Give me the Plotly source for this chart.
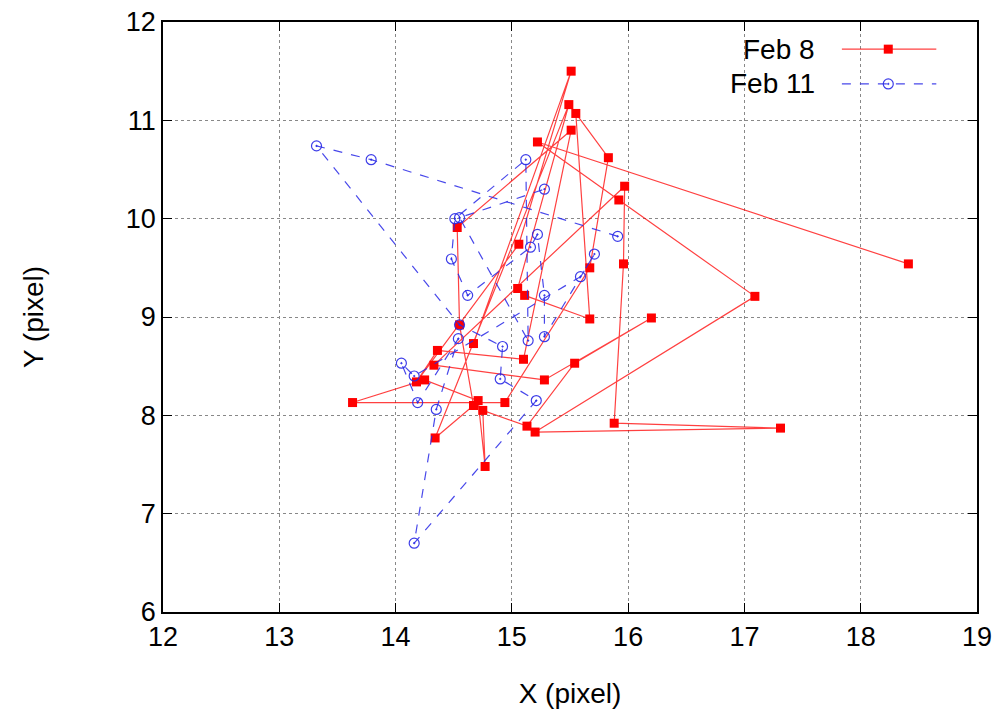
import plotly.graph_objects as go

# Feb 8 track (x, y in pixels)
feb8_x = [18.41, 15.22, 15.92, 17.09, 15.20, 17.31, 15.88, 15.96, 15.97, 14.33,
          15.28, 16.20, 15.54, 15.13, 14.75, 14.77, 14.71, 14.25, 13.63, 14.94,
          15.67, 15.83, 15.55, 15.67, 15.11, 15.05, 15.49, 14.34, 14.67, 14.55,
          14.53, 15.51, 15.10, 14.36, 14.18, 15.06, 15.51, 14.67]
feb8_y = [9.54, 10.78, 10.19, 9.21, 7.83, 7.87, 7.92, 9.54, 10.33, 8.51,
          8.36, 8.99, 8.53, 7.89, 8.05, 7.48, 8.15, 8.36, 8.13, 8.13,
          9.50, 10.62, 11.07, 8.98, 9.22, 9.29, 11.16, 7.77, 8.10, 8.92,
          9.91, 10.90, 8.57, 8.66, 8.34, 9.74, 11.50, 8.73]

# Feb 11 track
feb11_x = [15.91, 13.79, 13.32, 14.55, 14.92, 14.90, 15.21, 14.16, 14.35, 14.54,
           14.19, 14.05, 14.16, 15.59, 15.71, 15.28, 15.28, 15.22, 15.16, 14.62,
           14.48, 14.51, 15.12, 15.14, 14.55, 15.28]
feb11_y = [9.82, 10.60, 10.74, 8.92, 8.70, 8.37, 8.15, 6.70, 8.06, 8.78,
           8.13, 8.53, 8.40, 9.41, 9.64, 8.80, 9.22, 9.84, 9.71, 9.22,
           9.59, 10.00, 10.60, 8.76, 10.01, 10.30]

x_ticks = [12, 13, 14, 15, 16, 17, 18, 19]
y_ticks = [6, 7, 8, 9, 10, 11, 12]
labels = ["Feb 8", "Feb 11"]

red = "rgba(255,0,0,0.75)"
blue = "rgba(40,40,230,0.85)"
font = "Liberation Sans, Arial, sans-serif"

fig = go.Figure()
fig.add_trace(go.Scatter(x=feb8_x, y=feb8_y, mode="lines+markers", name=labels[0],
                         line=dict(color=red, width=1.2),
                         marker=dict(symbol="square", size=9, color="#ff0000"),
                         showlegend=False))
fig.add_trace(go.Scatter(x=feb11_x, y=feb11_y, mode="lines+markers", name=labels[1],
                         line=dict(color=blue, width=1.2, dash="dash"),
                         marker=dict(symbol="circle-open-dot", size=10,
                                     color="rgba(40,40,230,0.9)", line=dict(width=1.2)),
                         showlegend=False))

# custom legend (sample lines on an overlay axis in [0,1])
leg_y = [0.954, 0.895]
fig.add_trace(go.Scatter(x=[0.834, 0.891, 0.950], y=[leg_y[0]] * 3, mode="lines",
                         line=dict(color=red, width=1.2), xaxis="x2", yaxis="y2",
                         showlegend=False, hoverinfo="skip"))
fig.add_trace(go.Scatter(x=[0.891], y=[leg_y[0]], mode="markers",
                         marker=dict(symbol="square", size=9, color="#ff0000"),
                         xaxis="x2", yaxis="y2", showlegend=False, hoverinfo="skip"))
fig.add_trace(go.Scatter(x=[0.834, 0.891, 0.950], y=[leg_y[1]] * 3, mode="lines",
                         line=dict(color=blue, width=1.2, dash="dash"), xaxis="x2", yaxis="y2",
                         showlegend=False, hoverinfo="skip"))
fig.add_trace(go.Scatter(x=[0.891], y=[leg_y[1]], mode="markers",
                         marker=dict(symbol="circle-open-dot", size=10,
                                     color="rgba(40,40,230,0.9)", line=dict(width=1.2)),
                         xaxis="x2", yaxis="y2", showlegend=False, hoverinfo="skip"))
for lab, yy in zip(labels, leg_y):
    fig.add_annotation(x=0.803, y=yy, xref="paper", yref="paper", text=lab,
                       showarrow=False, xanchor="right", yanchor="middle",
                       font=dict(size=28, color="black", family=font))

axis_common = dict(showline=True, linecolor="black", linewidth=1.5, mirror="ticks",
                   ticks="inside", ticklen=9, tickcolor="black",
                   showgrid=True, gridcolor="#888888", griddash="dot", gridwidth=1,
                   zeroline=False, ticklabeloverflow="allow", automargin=False,
                   tickfont=dict(size=27, color="black", family=font))

fig.update_layout(
    width=1007, height=722,
    margin=dict(l=155, r=38, t=14, b=118),
    paper_bgcolor="white", plot_bgcolor="white",
    xaxis=dict(range=[12, 19], tickvals=x_ticks,
               title=dict(text="X (pixel)", font=dict(size=28, color="black", family=font), standoff=32),
               **axis_common),
    yaxis=dict(range=[6, 12], tickvals=y_ticks,
               title=dict(text="Y (pixel)", font=dict(size=28, color="black", family=font), standoff=74),
               **axis_common),
    xaxis2=dict(range=[0, 1], overlaying="x", visible=False, fixedrange=True),
    yaxis2=dict(range=[0, 1], overlaying="y", visible=False, fixedrange=True),
)

fig.write_html("out.html")
